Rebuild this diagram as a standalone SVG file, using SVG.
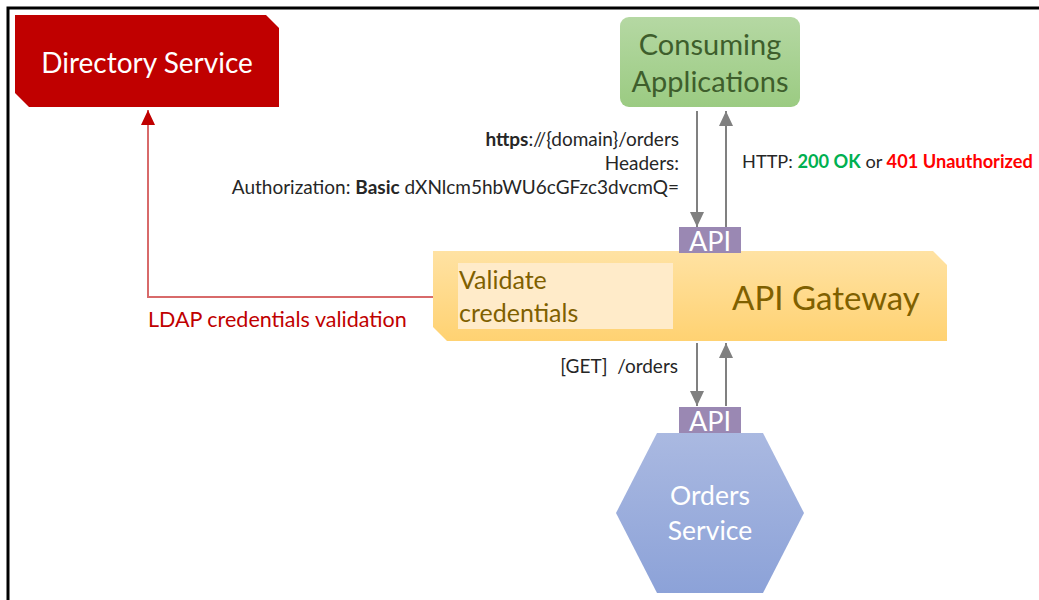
<svg xmlns="http://www.w3.org/2000/svg" width="1039" height="600" viewBox="0 0 1039 600">
<style>
text{font-family:Lato,"Noto Sans","Liberation Sans",sans-serif}
.lbl{font-size:19px;fill:#262626}
.api{font-size:27px;fill:#fff;text-anchor:middle}
.apibox{fill:#9A88B3}
.gray{stroke:#808080;stroke-width:2;fill:none}
</style>
<defs>
<linearGradient id="gGreen" x1="0" y1="0" x2="0" y2="1"><stop offset="0" stop-color="#B5D8A3"/><stop offset="1" stop-color="#9BCB82"/></linearGradient>
<linearGradient id="gGold" x1="0" y1="0" x2="0" y2="1"><stop offset="0" stop-color="#FFE2A3"/><stop offset="1" stop-color="#FFD272"/></linearGradient>
<linearGradient id="gBlue" x1="0" y1="0" x2="0" y2="1"><stop offset="0" stop-color="#AAB9E1"/><stop offset="1" stop-color="#8CA2D8"/></linearGradient>
<marker id="ah" viewBox="0 0 15 14" refX="15" refY="7" markerWidth="15" markerHeight="14" markerUnits="userSpaceOnUse" orient="auto"><path d="M0,0 L15,7 L0,14 Z" fill="#808080"/></marker>
<marker id="ahr" viewBox="0 0 15 14" refX="15" refY="7" markerWidth="15" markerHeight="14" markerUnits="userSpaceOnUse" orient="auto"><path d="M0,0 L15,7 L0,14 Z" fill="#C00000"/></marker>
</defs>
<rect width="1039" height="600" fill="#fff"/>
<path d="M8,600 V8 H1039" fill="none" stroke="#000" stroke-width="3"/>

<g id="connectors">
<polyline points="433,297 148,297 148,110" fill="none" stroke="#D86A6A" stroke-width="2" marker-end="url(#ahr)"/>
<line x1="697" y1="111" x2="697" y2="227" class="gray" marker-end="url(#ah)"/>
<line x1="726" y1="227" x2="726" y2="111" class="gray" marker-end="url(#ah)"/>
<line x1="697" y1="343" x2="697" y2="406" class="gray" marker-end="url(#ah)"/>
<line x1="726" y1="406" x2="726" y2="343" class="gray" marker-end="url(#ah)"/>
<text x="148" y="327" style="font-size:21.5px;fill:#C00000">LDAP credentials validation</text>
<text class="lbl" text-anchor="end"><tspan x="679" y="146"><tspan font-weight="bold">https</tspan>://{domain}/orders</tspan><tspan x="679" y="170">Headers:</tspan><tspan x="679" y="194">Authorization: <tspan font-weight="bold">Basic</tspan> dXNlcm5hbWU6cGFzc3dvcmQ=</tspan></text>
<text class="lbl" x="742" y="168" style="font-size:18.2px">HTTP: <tspan font-weight="bold" fill="#00B050">200 OK</tspan> or <tspan font-weight="bold" fill="#FF0000">401 Unauthorized</tspan></text>
<text class="lbl" x="678" y="373" text-anchor="end" style="white-space:pre">[GET]  /orders</text>
</g>

<g id="directory-service">
<polygon points="15,15 266,15 279,28 279,107 29,107 15,93" fill="#C00000"/>
<text x="147" y="73" text-anchor="middle" style="font-size:28px;fill:#fff">Directory Service</text>
</g>

<g id="consuming-applications">
<rect x="620" y="17" width="180" height="90" rx="9" fill="url(#gGreen)"/>
<text text-anchor="middle" style="font-size:29px;fill:#3E5E2C"><tspan x="710" y="55">Consuming</tspan><tspan x="710" y="92">Applications</tspan></text>
</g>

<g id="api-gateway">
<polygon points="433,251 933,251 947,265 947,341 447,341 433,327" fill="url(#gGold)"/>
<rect x="458" y="263" width="215" height="66" fill="#FFEBC9"/>
<text style="font-size:25px;fill:#7F6000"><tspan x="459" y="289">Validate</tspan><tspan x="459" y="322">credentials</tspan></text>
<text x="826" y="310" text-anchor="middle" style="font-size:33px;fill:#7F6000">API Gateway</text>
</g>

<g id="api-top">
<rect x="679" y="227" width="62" height="26" class="apibox"/>
<text x="710" y="251" class="api">API</text>
</g>

<g id="orders-service">
<polygon points="657,433 763,433 804,513 763,593 657,593 616,513" fill="url(#gBlue)"/>
<text text-anchor="middle" style="font-size:26.5px;fill:#fff"><tspan x="710" y="505">Orders</tspan><tspan x="710" y="540">Service</tspan></text>
</g>

<g id="api-bottom">
<rect x="679" y="407" width="62" height="26" class="apibox"/>
<text x="710" y="431" class="api">API</text>
</g>
</svg>
